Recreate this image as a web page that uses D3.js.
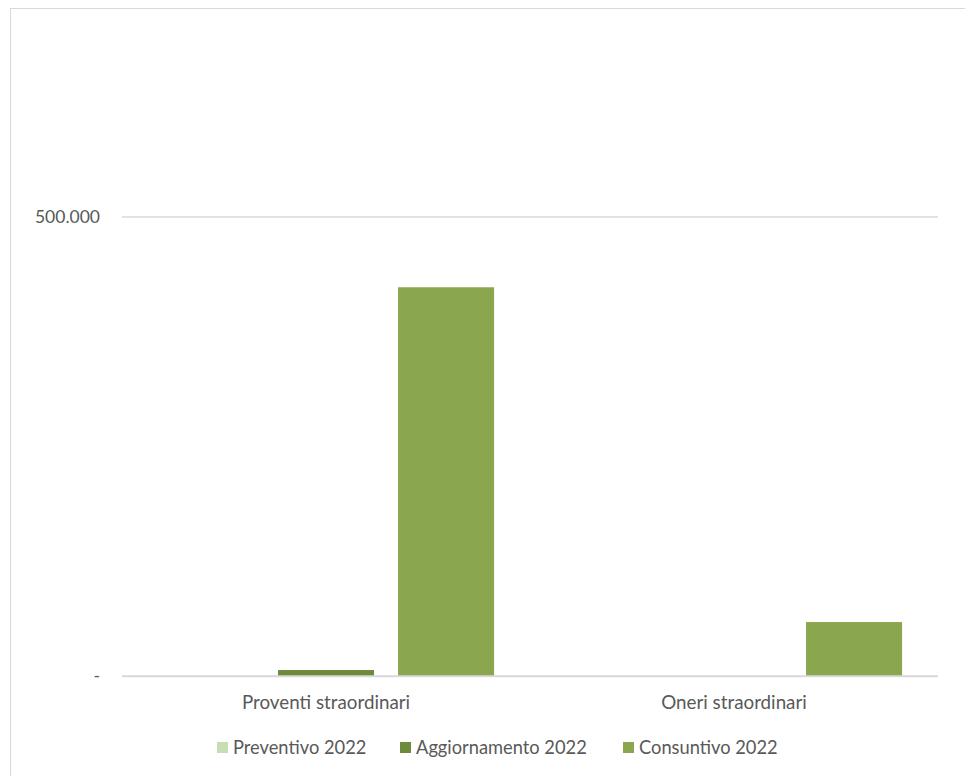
<!DOCTYPE html>
<html>
<head>
<meta charset="utf-8">
<script src="https://cdn.jsdelivr.net/npm/d3@7"></script>
<style>
  html, body { margin: 0; padding: 0; background: #ffffff; }
  svg { display: block; }
  text { font-family: Lato, "Liberation Sans", sans-serif; fill: #595959; }
</style>
</head>
<body>
<div id="chart"></div>
<script>
const categories = ["Proventi straordinari", "Oneri straordinari"];
const seriesNames = ["Preventivo 2022", "Aggiornamento 2022", "Consuntivo 2022"];
const preventivo = [0, 0];
const aggiornamento = [6500, 0];
const consuntivo = [423000, 58700];
const yTicks = [0, 500000];
const yTickLabels = ["-", "500.000"];
const colors = ["#C9DDB5", "#6E8B3D", "#8AA64E"];

const W = 965, H = 776;
const svg = d3.select("#chart").append("svg").attr("width", W).attr("height", H);

// chart frame
svg.append("rect").attr("x", 10.5).attr("y", 8.5).attr("width", W).attr("height", H)
  .attr("fill", "none").attr("stroke", "#d9d9d9").attr("stroke-width", 1);

const plot = { left: 122, right: 938, zero: 676, top500: 216.5 };

const y = d3.scaleLinear().domain([0, 500000]).range([plot.zero, plot.top500]);
const x0 = d3.scaleBand().domain(categories).range([plot.left, plot.right]).paddingInner(0.176).paddingOuter(0.088);
const x1 = d3.scaleBand().domain(seriesNames).range([0, x0.bandwidth()]).paddingInner(0.2);

// gridlines + y labels via axis
const yAxis = d3.axisLeft(y).tickValues(yTicks).tickFormat((d, i) => yTickLabels[i])
  .tickSize(-(plot.right - plot.left)).tickPadding(22);
const gy = svg.append("g").attr("transform", `translate(${plot.left},0)`).call(yAxis);
gy.select(".domain").remove();
gy.selectAll(".tick line").attr("stroke", "#d9d9d9").attr("stroke-width", 1.3);
gy.selectAll(".tick text").style("font-size", "17.5px").attr("fill", "#595959");

const data = categories.map((c, i) => ({ cat: c, vals: [preventivo[i], aggiornamento[i], consuntivo[i]] }));

const groups = svg.append("g").selectAll("g").data(data).join("g")
  .attr("transform", d => `translate(${x0(d.cat)},0)`);
groups.selectAll("rect").data(d => d.vals.map((v, j) => ({ name: seriesNames[j], v, j })))
  .join("rect")
  .attr("x", d => x1(d.name))
  .attr("width", x1.bandwidth())
  .attr("y", d => y(d.v))
  .attr("height", d => y(0) - y(d.v))
  .attr("fill", d => colors[d.j]);

// zero line drawn on top
svg.append("line").attr("x1", plot.left).attr("x2", plot.right)
  .attr("y1", y(0)).attr("y2", y(0)).attr("stroke", "#d9d9d9").attr("stroke-width", 1.3);

// x axis labels
const xAxis = d3.axisBottom(x0).tickSize(0).tickPadding(20);
const gx = svg.append("g").attr("transform", `translate(0,${plot.zero})`).call(xAxis);
gx.select(".domain").remove();
gx.selectAll(".tick text").style("font-size", "18.8px").attr("fill", "#595959");

// legend
const legendX = [217, 400, 623];
const leg = svg.append("g").selectAll("g").data(seriesNames).join("g")
  .attr("transform", (d, i) => `translate(${legendX[i]},742)`);
leg.append("rect").attr("width", 11).attr("height", 11).attr("fill", (d, i) => colors[i]);
leg.append("text").attr("x", 16).attr("y", 11.5).style("font-size", "18.3px").text(d => d);
</script>
</body>
</html>
